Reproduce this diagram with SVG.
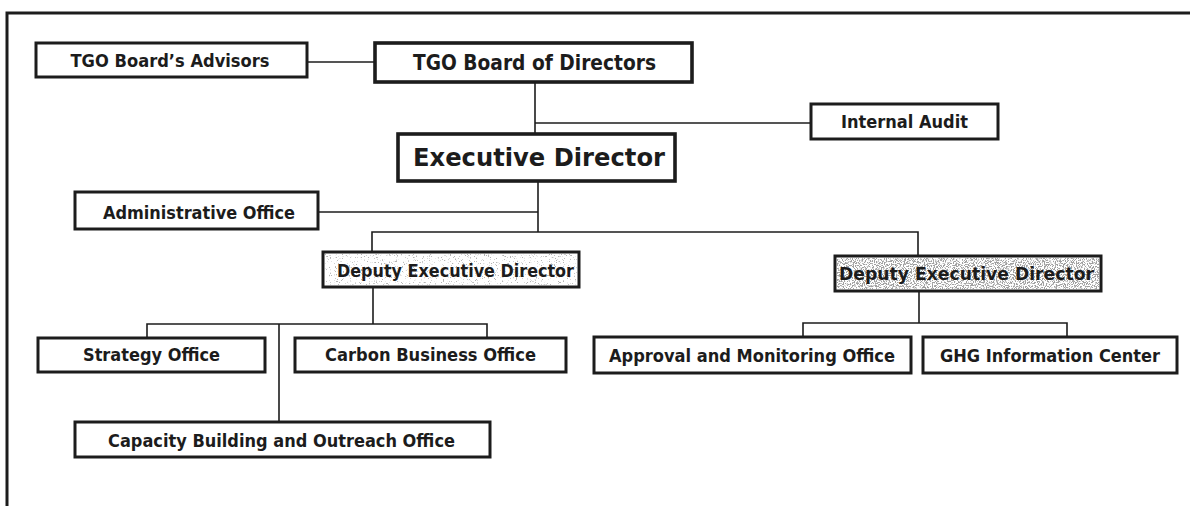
<svg xmlns="http://www.w3.org/2000/svg" width="1190" height="506" viewBox="0 0 1190 506">
  <style>
    .box { fill: #fff; stroke: #1c1c1c; stroke-width: 3; }
    .box.major { stroke-width: 3.6; }
    .lbl { font-family: "DejaVu Sans", Verdana, sans-serif; font-weight: bold; font-size: 17.5px; fill: #1c1c1c; text-anchor: middle; }
    .lbl.bod { font-size: 20.5px; }
    .lbl.exec { font-size: 25px; }
    .wire { fill: none; stroke: #1c1c1c; stroke-width: 1.6; }
    .frame { fill: none; stroke: #1c1c1c; stroke-width: 3; }
  </style>
  <defs>
    <!-- grey stipple used as the fill of the deputy boxes -->
    <filter id="stippleLight" x="0" y="0" width="100%" height="100%">
      <feTurbulence type="fractalNoise" baseFrequency="0.85" numOctaves="2" seed="4" result="n"/>
      <feColorMatrix in="n" type="matrix" values="0 0 0 0 0.45  0 0 0 0 0.45  0 0 0 0 0.45  9 0 0 0 -5.6"/>
    </filter>
    <filter id="stippleDark" x="0" y="0" width="100%" height="100%">
      <feTurbulence type="fractalNoise" baseFrequency="0.9" numOctaves="2" seed="9" result="n"/>
      <feColorMatrix in="n" type="matrix" values="0 0 0 0 0.35  0 0 0 0 0.35  0 0 0 0 0.35  9 0 0 0 -4.3"/>
    </filter>
  </defs>

  <rect width="1190" height="506" fill="#fff"/>

  <!-- page frame (top and left edges) -->
  <path class="frame" d="M7 506 V13 H1190"/>

  <g id="connectors">
    <path class="wire" d="M307 62 H375"/>
    <path class="wire" d="M535 82 V134"/>
    <path class="wire" d="M535 123 H811"/>
    <path class="wire" d="M538 181 V232"/>
    <path class="wire" d="M318 212 H538"/>
    <path class="wire" d="M372 252 V232 H918 V256"/>
    <path class="wire" d="M373 287 V324"/>
    <path class="wire" d="M147 338 V324 H487 V338"/>
    <path class="wire" d="M279 324 V422"/>
    <path class="wire" d="M919 291 V323"/>
    <path class="wire" d="M803 337 V323 H1067 V337"/>
  </g>

  <g id="board-advisors">
    <rect class="box" x="36" y="43" width="271" height="34"/>
    <text class="lbl" x="170" y="67" textLength="199" lengthAdjust="spacingAndGlyphs">TGO Board’s Advisors</text>
  </g>

  <g id="board-of-directors">
    <rect class="box major" x="375" y="43" width="317" height="39"/>
    <text class="lbl bod" x="534.5" y="70" textLength="243" lengthAdjust="spacingAndGlyphs">TGO Board of Directors</text>
  </g>

  <g id="internal-audit">
    <rect class="box" x="811" y="104" width="187" height="35"/>
    <text class="lbl" x="904.5" y="128" textLength="127" lengthAdjust="spacingAndGlyphs">Internal Audit</text>
  </g>

  <g id="executive-director">
    <rect class="box major" x="398" y="134" width="277" height="47"/>
    <text class="lbl exec" x="539" y="166" textLength="252" lengthAdjust="spacingAndGlyphs">Executive Director</text>
  </g>

  <g id="administrative-office">
    <rect class="box" x="75" y="192" width="243" height="37"/>
    <text class="lbl" x="199" y="219" textLength="192" lengthAdjust="spacingAndGlyphs">Administrative Office</text>
  </g>

  <g id="deputy-left">
    <rect class="box" x="323" y="252" width="256" height="35"/>
    <rect x="325" y="254" width="252" height="31" filter="url(#stippleLight)"/>
    <text class="lbl" x="455.5" y="276.5" textLength="237" lengthAdjust="spacingAndGlyphs">Deputy Executive Director</text>
  </g>

  <g id="deputy-right">
    <rect class="box" x="835" y="256" width="266" height="35"/>
    <rect x="837" y="258" width="262" height="31" filter="url(#stippleDark)"/>
    <text class="lbl" x="966.5" y="280" textLength="255" lengthAdjust="spacingAndGlyphs">Deputy Executive Director</text>
  </g>

  <g id="strategy-office">
    <rect class="box" x="38" y="338" width="227" height="34"/>
    <text class="lbl" x="151.5" y="361" textLength="137" lengthAdjust="spacingAndGlyphs">Strategy Office</text>
  </g>

  <g id="carbon-business-office">
    <rect class="box" x="295" y="338" width="271" height="34"/>
    <text class="lbl" x="430.5" y="361" textLength="211" lengthAdjust="spacingAndGlyphs">Carbon Business Office</text>
  </g>

  <g id="capacity-building-office">
    <rect class="box" x="75" y="422" width="415" height="35"/>
    <text class="lbl" x="281.5" y="446.5" textLength="347" lengthAdjust="spacingAndGlyphs">Capacity Building and Outreach Office</text>
  </g>

  <g id="approval-monitoring-office">
    <rect class="box" x="594" y="337" width="317" height="36"/>
    <text class="lbl" x="752" y="362" textLength="286" lengthAdjust="spacingAndGlyphs">Approval and Monitoring Office</text>
  </g>

  <g id="ghg-information-center">
    <rect class="box" x="923" y="337" width="254" height="36"/>
    <text class="lbl" x="1050" y="362" textLength="220" lengthAdjust="spacingAndGlyphs">GHG Information Center</text>
  </g>
</svg>
